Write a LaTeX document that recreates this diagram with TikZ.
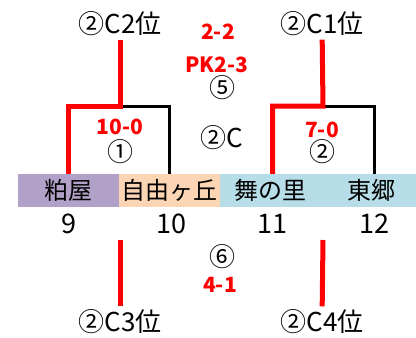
\documentclass[tikz,border=0pt]{standalone}
\usepackage{fontspec}
\setmainfont{Noto Sans CJK JP}
\definecolor{kpurple}{RGB}{177,160,199}
\definecolor{jpeach}{RGB}{252,213,180}
\definecolor{mblue}{RGB}{183,222,232}
\tikzstyle{team} = [rectangle, minimum width=101pt, minimum height=33pt, inner sep=0pt, text centered, font=\fontsize{24}{24}\selectfont]
\tikzstyle{num} = [font=\fontsize{27}{27}\selectfont]
\tikzstyle{rank} = [font=\fontsize{26}{26}\selectfont]
\tikzstyle{score} = [text=red, font=\fontsize{21}{21}\selectfont\bfseries]
\tikzstyle{win} = [red, line width=5pt]
\tikzstyle{lose} = [black, line width=3pt]

\begin{document}
\begin{tikzpicture}[x=1pt, y=1pt, node distance=101pt]
\useasboundingbox (0,0) rectangle (416,-338);

\node (kasuya) [team, fill=kpurple] at (68.5,-190.5) {粕屋};
\node (jiyu) [team, fill=jpeach, right of=kasuya] {自由ヶ丘};
\node (mai) [team, fill=mblue, right of=jiyu] {舞の里};
\node (togo) [team, fill=mblue, right of=mai] {東郷};

\node (n9) [num, below of=kasuya, node distance=33pt] {9};
\node (n10) [num, below of=jiyu, node distance=33pt, xshift=2pt] {10};
\node (n11) [num, below of=mai, node distance=33pt, xshift=2pt] {11};
\node (n12) [num, below of=togo, node distance=33pt, xshift=3pt] {12};

\node (c2pos) [rank] at (120,-24) {②C2位};
\node (c1pos) [rank] at (322,-24) {②C1位};
\node (c3pos) [rank] at (120,-322) {②C3位};
\node (c4pos) [rank] at (322,-322) {②C4位};

\node (s5a) [score] at (218,-32) {2-2};
\node (s5b) [score] at (217,-65) {PK2-3};
\node (g5) [rank] at (222,-88) {⑤};
\node (grp) [rank] at (222,-138) {②C};
\node (s1) [score] at (120,-127) {10-0};
\node (g1) [rank] at (120,-152) {①};
\node (s2) [score] at (322,-130) {7-0};
\node (g2) [rank] at (322,-152) {②};
\node (g6) [rank] at (222,-257) {⑥};
\node (s6) [score] at (220,-285) {4-1};

\coordinate (m1) at (120,-106);
\coordinate (m2) at (323,-106);
\coordinate (b1) at (120,-240);
\coordinate (b2) at (323,-240);

\draw [lose] (m1) -| (jiyu.north);
\draw [lose] (m2) -| ([xshift=3pt]togo.north);
\draw [win] (kasuya.north) |- (m1) -- (c2pos);
\draw [win] ([xshift=2pt]mai.north) |- (m2) -- (c1pos);
\draw [win] (b1) -- (c3pos);
\draw [win] (b2) -- (c4pos);

\end{tikzpicture}
\end{document}
